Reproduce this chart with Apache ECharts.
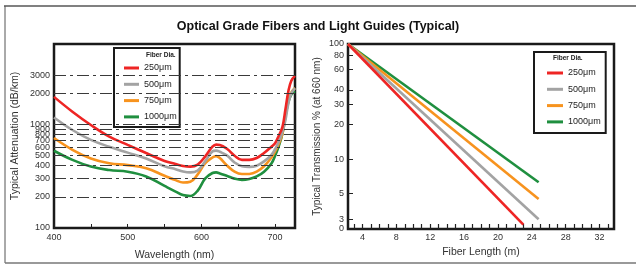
<!DOCTYPE html>
<html>
<head>
<meta charset="utf-8">
<title>Optical Grade Fibers and Light Guides (Typical)</title>
<script src="https://cdn.jsdelivr.net/npm/echarts@6/dist/echarts.min.js"></script>
<style>
	html, body { margin: 0; padding: 0; background: #fff; }
	#main { width: 636px; height: 271px; }
</style>
</head>
<body>
<div id="main"></div>
<script>
	// left chart: attenuation (dB/km) against wavelength (nm)
	var wavelengths = [400,425,450,475,500,525,550,565,575,585,595,605,615,620,625,635,645,655,665,675,685,695,700,705,710,714,718,722,727];
	var att250  = [1850,1330,990,765,635,530,445,415,398,392,410,490,610,640,635,580,500,455,455,475,530,610,660,780,950,1400,2100,2650,2950];
	var att500  = [1170,885,710,610,535,470,395,370,352,345,360,440,550,560,545,500,430,395,390,400,440,510,580,680,850,1100,1600,2000,2250];
	var att750  = [740,570,470,422,405,378,320,290,275,280,330,420,480,495,475,400,350,332,333,350,395,480,550,650,820,1200,1700,2050,2250];
	var att1000 = [558,455,392,363,350,315,255,225,208,204,230,300,340,345,337,318,300,292,298,315,350,420,500,620,820,1200,1650,1950,2100];
	var attTicks = [100,200,300,400,500,600,700,800,900,1000,2000,3000];
	var wlLabels = [400,500,600,700];
	var wlTicks = [400,450,500,550,600,650,700];

	// right chart: transmission % at 660 nm against fiber length (m), straight on the log scale
	var lenStart = [2.3,2.3,2.3,2.3];
	var transStart = [100,100,100,100];
	var lenEnd = [23.0,24.8,24.8,24.8];
	var transEnd = [2.7,3.0,4.5,6.3];
	var lenLabels = [4,8,12,16,20,24,28,32];
	var lenTicks = [3,4,5,6,7,8,9,10,11,12,13,14,15,16,17,18,19,20,21,22,23,24,25,26,27,28,29,30,31,32,33];
	var transLabels = [3,5,10,20,30,40,60,80,100];
	var transMin = 2.47;

	var fiberNames = ['250μm','500μm','750μm','1000μm'];
	var colors = ['#ee2524','#a3a3a3','#f7931e','#1f8f3f'];
	var attData = [att250, att500, att750, att1000];

	var font = 'Liberation Sans, Arial, sans-serif';

	var chart = echarts.init(document.getElementById('main'));

	var series = [];
	// gridlines of the attenuation plot
	series.push({
		type: 'line', xAxisIndex: 0, yAxisIndex: 0, data: [], silent: true, z: 1,
		markLine: {
			silent: true, symbol: 'none', label: { show: false },
			lineStyle: { color: '#3a3a3a', width: 1, type: [12,4,3,4] },
			data: attTicks.filter(function (v) { return v > 100; }).map(function (v) { return { yAxis: v }; })
		}
	});
	for (var i = 3; i >= 0; i--) {
		series.push({
			name: fiberNames[i], type: 'line', xAxisIndex: 0, yAxisIndex: 0, z: 3,
			smooth: 0.4, showSymbol: false,
			data: wavelengths.map(function (w, k) { return [w, attData[i][k]]; }),
			lineStyle: { color: colors[i], width: 2.6 },
			itemStyle: { color: colors[i] }
		});
	}
	for (var j = 3; j >= 0; j--) {
		series.push({
			name: fiberNames[j], type: 'line', xAxisIndex: 1, yAxisIndex: 1, z: 3,
			showSymbol: false,
			data: [[lenStart[j], transStart[j]], [lenEnd[j], transEnd[j]]],
			lineStyle: { color: colors[j], width: 2.6 },
			itemStyle: { color: colors[j] }
		});
	}

	var legendBase = {
		orient: 'vertical', data: fiberNames, icon: 'rect',
		itemWidth: 15, itemHeight: 3, itemGap: 4.3,
		backgroundColor: '#fff', borderColor: '#1a1a1a', borderWidth: 2,
		selectedMode: false,
		textStyle: { fontFamily: font, fontSize: 9, color: '#222', lineHeight: 12 }
	};

	var option = {
		animation: false,
		backgroundColor: '#fff',
		title: [
			{ text: 'Optical Grade Fibers and Light Guides (Typical)', left: 'center', top: 15,
				textStyle: { fontFamily: font, fontSize: 12.5, fontWeight: 'bold', color: '#111' } },
			{ text: 'Fiber Dia.', left: 146, top: 52, padding: 0,
				textStyle: { fontFamily: font, fontSize: 6.5, fontWeight: 'bold', color: '#222' } },
			{ text: 'Fiber Dia.', left: 553, top: 55, padding: 0,
				textStyle: { fontFamily: font, fontSize: 6.5, color: '#222' } }
		],
		legend: [
			Object.assign({}, legendBase, { left: 114, top: 48, padding: [14, 3, 4, 10] }),
			Object.assign({}, legendBase, { left: 534, top: 52, padding: [15, 5, 5, 13], itemWidth: 16 })
		],
		grid: [
			{ left: 54, top: 44, width: 241, height: 184, show: true, borderColor: '#1a1a1a', borderWidth: 2.5 },
			{ left: 348, top: 44, width: 266, height: 185, show: true, borderColor: '#1a1a1a', borderWidth: 2.5 }
		],
		xAxis: [
			{
				type: 'value', gridIndex: 0, min: 400, max: 727,
				name: 'Wavelength (nm)', nameLocation: 'middle', nameGap: 22,
				nameTextStyle: { fontFamily: font, fontSize: 10.5, color: '#333' },
				axisLine: { show: false },
				axisTick: { show: true, inside: true, length: 4, customValues: wlTicks, lineStyle: { color: '#222' } },
				axisLabel: { customValues: wlLabels, margin: 5, fontFamily: font, fontSize: 9, color: '#333' },
				splitLine: { show: false }
			},
			{
				type: 'value', gridIndex: 1, min: 2.3, max: 33.7,
				name: 'Fiber Length (m)', nameLocation: 'middle', nameGap: 18,
				nameTextStyle: { fontFamily: font, fontSize: 10.5, color: '#333' },
				axisLine: { show: false },
				axisTick: { show: true, inside: true, length: 5, customValues: lenTicks, lineStyle: { color: '#222', width: 1.2 } },
				axisLabel: { customValues: lenLabels, margin: 4, fontFamily: font, fontSize: 9, color: '#333' },
				splitLine: { show: false }
			}
		],
		yAxis: [
			{
				type: 'log', gridIndex: 0, min: 100, max: 6000,
				name: 'Typical Attenuation (dB/km)', nameLocation: 'middle', nameGap: 33,
				nameTextStyle: { fontFamily: font, fontSize: 10.5, color: '#333' },
				axisLine: { show: false },
				axisTick: { show: false },
				axisLabel: {
					customValues: attTicks, margin: 4, fontFamily: font, fontSize: 9, color: '#333',
					formatter: function (v) { return String(v); }
				},
				splitLine: { show: false }
			},
			{
				type: 'log', gridIndex: 1, min: transMin, max: 100,
				name: 'Typical Transmission % (at 660 nm)', nameLocation: 'middle', nameGap: 26,
				nameTextStyle: { fontFamily: font, fontSize: 10, color: '#333' },
				axisLine: { show: false },
				axisTick: { show: true, inside: true, length: 5, customValues: transLabels, lineStyle: { color: '#222' } },
				axisLabel: {
					customValues: [transMin * 1.001].concat(transLabels), margin: 4,
					fontFamily: font, fontSize: 9, color: '#333',
					formatter: function (v) { return v < 3 ? '0' : String(v); }
				},
				splitLine: { show: false }
			}
		],
		graphic: [
			{ type: 'line', shape: { x1: 4, y1: 6, x2: 636, y2: 6 }, style: { stroke: '#808080', lineWidth: 2 }, silent: true },
			{ type: 'line', shape: { x1: 5, y1: 6, x2: 5, y2: 263 }, style: { stroke: '#555', lineWidth: 1 }, silent: true },
			{ type: 'line', shape: { x1: 5, y1: 263, x2: 636, y2: 263 }, style: { stroke: '#777', lineWidth: 1.5 }, silent: true }
		],
		series: series
	};
	chart.setOption(option);
</script>
</body>
</html>
